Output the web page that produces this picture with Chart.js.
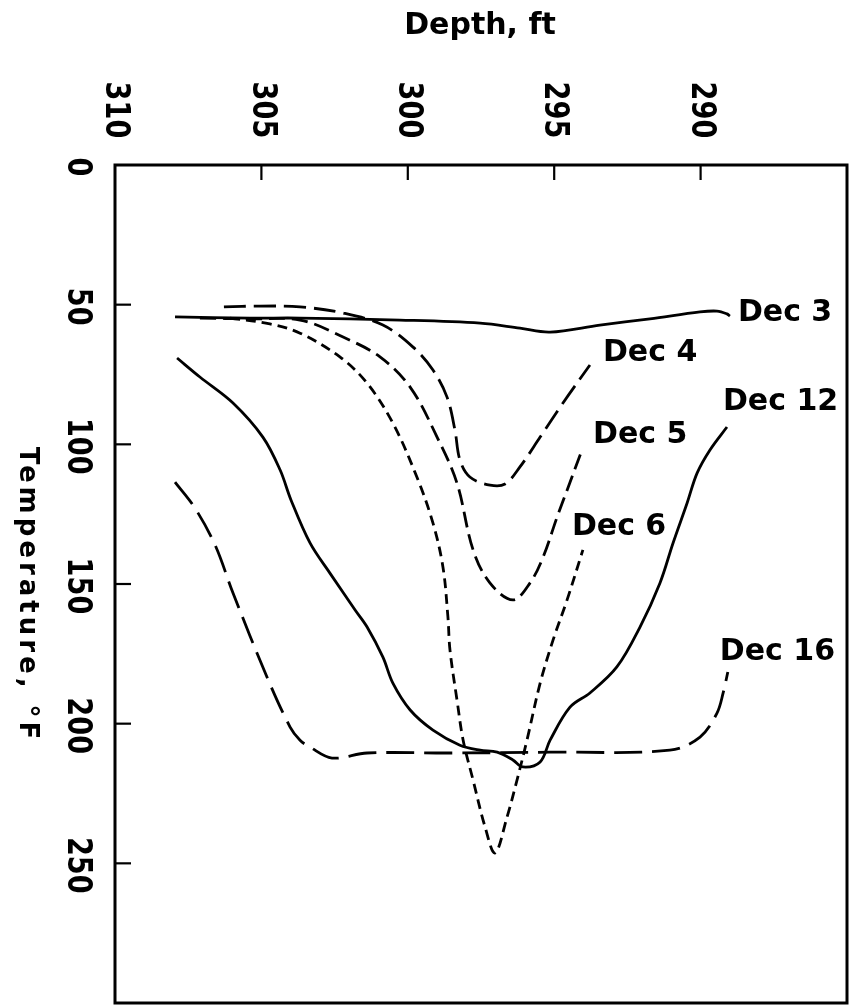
<!DOCTYPE html>
<html>
<head>
<meta charset="utf-8">
<script src="https://cdn.jsdelivr.net/npm/chart.js@4"></script>
<style>
  html, body { margin: 0; padding: 0; background: #fff; }
</style>
</head>
<body>
<canvas id="grafic" width="852" height="1007"></canvas>
<script>
// axa de sus: adancime (ft), axa din stanga: temperatura (F)
const depthTicks = [310, 305, 300, 295, 290];
const tempTicks = [0, 50, 100, 150, 200, 250];
const seriesNames = ['Dec 3', 'Dec 4', 'Dec 5', 'Dec 6', 'Dec 12', 'Dec 16'];

const dec3Depth = [307.95, 305.39, 303.68, 300.27, 297.53, 296.17, 295.14, 293.44, 291.73, 290.02, 289.44, 289.10, 289.00];
const dec3Temp = [54.4, 54.8, 54.8, 55.5, 56.6, 58.4, 59.8, 57.3, 55.1, 52.6, 52.3, 53.3, 54.1];

const dec4Depth = [306.28, 305.05, 303.68, 302.21, 300.85, 299.82, 299.14, 298.66, 298.39, 298.22, 297.88, 297.19, 296.68, 296.17, 295.48, 294.70, 293.78];
const dec4Temp = [50.8, 50.5, 50.8, 53.0, 57.3, 65.2, 73.4, 83.1, 94.9, 105.6, 111.7, 114.6, 114.2, 108.1, 97.4, 85.2, 71.6];

const dec5Depth = [307.10, 305.39, 303.68, 302.21, 300.95, 299.92, 299.00, 298.32, 297.77, 297.19, 296.41, 295.83, 295.38, 294.90, 294.56, 294.05];
const dec5Temp = [54.8, 55.1, 55.5, 61.6, 68.7, 79.5, 97.4, 113.9, 137.8, 149.7, 155.7, 149.7, 140.4, 126.0, 116.4, 102.0];

const dec6Depth = [306.07, 304.71, 303.68, 302.32, 301.39, 300.51, 299.69, 299.14, 298.80, 298.63, 298.56, 298.32, 298.11, 297.77, 297.36, 297.02, 296.61, 296.27, 295.93, 295.48, 295.04, 294.56, 294.02];
const dec6Temp = [54.8, 56.9, 60.2, 68.7, 78.1, 92.4, 111.7, 128.2, 143.9, 161.8, 173.6, 191.5, 205.9, 220.2, 237.0, 246.3, 233.4, 220.2, 205.9, 185.5, 170.1, 155.7, 137.8];

const dec12Depth = [307.88, 307.10, 305.97, 304.95, 304.36, 303.99, 303.34, 302.66, 301.80, 301.39, 300.85, 300.51, 299.92, 299.14, 298.22, 297.53, 296.95, 296.41, 296.07, 295.48, 295.14, 294.46, 293.78, 292.86, 292.07, 291.39, 290.94, 290.46, 290.12, 289.68, 289.10];
const dec12Temp = [69.1, 75.9, 85.2, 97.4, 109.2, 119.9, 135.3, 146.1, 159.3, 165.4, 176.2, 185.5, 195.1, 202.3, 207.7, 209.5, 210.2, 213.0, 215.5, 213.7, 205.9, 194.1, 189.0, 179.7, 165.4, 149.7, 135.3, 121.0, 110.3, 102.0, 93.8];

const dec16Depth = [307.95, 307.27, 306.58, 305.97, 304.81, 304.02, 303.68, 303.34, 302.59, 301.39, 298.56, 295.14, 291.05, 290.02, 289.44, 289.23, 289.07];
const dec16Temp = [113.5, 122.8, 136.1, 153.2, 183.3, 201.2, 205.9, 208.4, 212.3, 210.5, 210.5, 210.2, 209.5, 204.8, 196.2, 189.0, 181.5];

const allDepth = [dec3Depth, dec4Depth, dec5Depth, dec6Depth, dec12Depth, dec16Depth];
const allTemp = [dec3Temp, dec4Temp, dec5Temp, dec6Temp, dec12Temp, dec16Temp];

// stil linii: plin, intrerupt lung, mediu, scurt
const dashes = [[], [22, 8], [16, 7], [10, 6], [], [28, 10]];
// pozitia etichetei fata de capatul curbei (px)
const labelOffsets = [[8, -3], [13, -12], [11, -15], [-11, -23], [-4, -25], [-8, -20]];

const datasets = seriesNames.map((name, i) => ({
    label: name,
    data: allDepth[i].map((d, k) => ({ x: d, y: allTemp[i][k] })),
    showLine: true,
    borderColor: '#000',
    borderWidth: 2.8,
    borderDash: dashes[i],
    pointRadius: 0,
    tension: 0.35,
    fill: false
}));

const fontFam = '"DejaVu Sans", sans-serif';

// text rotit 90 grade in sensul acelor de ceas, putin ingustat
function textRotit(ctx, text, x, y, font, latime) {
    ctx.save();
    ctx.font = font;
    ctx.translate(x, y);
    ctx.rotate(Math.PI / 2);
    ctx.scale(latime, 1);
    ctx.fillText(text, 0, 0);
    ctx.restore();
}

const axePlugin = {
    id: 'axePlugin',
    afterDraw: (chart) => {
        const ctx = chart.ctx;
        const a = chart.chartArea;
        const sx = chart.scales.x;
        const sy = chart.scales.y;
        ctx.save();
        ctx.strokeStyle = '#000';
        ctx.fillStyle = '#000';

        // chenar
        ctx.lineWidth = 3;
        ctx.strokeRect(a.left, a.top, a.right - a.left, a.bottom - a.top);

        // liniute spre interior
        ctx.lineWidth = 2.2;
        depthTicks.forEach(v => {
            const px = sx.getPixelForValue(v);
            if (Math.abs(px - a.left) < 2) return;
            ctx.beginPath();
            ctx.moveTo(px, a.top);
            ctx.lineTo(px, a.top + 15);
            ctx.stroke();
        });
        tempTicks.forEach(v => {
            const py = sy.getPixelForValue(v);
            if (Math.abs(py - a.top) < 2) return;
            ctx.beginPath();
            ctx.moveTo(a.left, py);
            ctx.lineTo(a.left + 16, py);
            ctx.stroke();
        });

        // etichete axe
        ctx.textAlign = 'center';
        ctx.textBaseline = 'middle';
        const fontTick = 'bold 34px ' + fontFam;
        depthTicks.forEach(v => {
            textRotit(ctx, String(v), sx.getPixelForValue(v), 110, fontTick, 0.8);
        });
        tempTicks.forEach(v => {
            textRotit(ctx, String(v), 77, sy.getPixelForValue(v) + 2, fontTick, 0.8);
        });

        // titluri
        ctx.font = 'bold 30px ' + fontFam;
        ctx.fillText('Depth, ft', 480, 26);

        ctx.save();
        ctx.font = 'bold 26px ' + fontFam;
        ctx.letterSpacing = '4px';
        ctx.translate(27, 595);
        ctx.rotate(Math.PI / 2);
        ctx.fillText('Temperature, \u00B0F', 0, 0);
        ctx.restore();

        // etichete serii
        ctx.font = 'bold 30px ' + fontFam;
        ctx.textAlign = 'left';
        seriesNames.forEach((name, i) => {
            const d = allDepth[i];
            const t = allTemp[i];
            const px = sx.getPixelForValue(d[d.length - 1]);
            const py = sy.getPixelForValue(t[t.length - 1]);
            ctx.fillText(name, px + labelOffsets[i][0], py + labelOffsets[i][1]);
        });

        ctx.restore();
    }
};

const ctx = document.getElementById('grafic').getContext('2d');
new Chart(ctx, {
    type: 'scatter',
    data: { datasets: datasets },
    options: {
        responsive: false,
        animation: false,
        layout: { padding: { left: 115, top: 165, right: 5, bottom: 4 } },
        plugins: {
            legend: { display: false },
            tooltip: { enabled: false }
        },
        scales: {
            x: { type: 'linear', min: 285, max: 310, reverse: true, display: false },
            y: { type: 'linear', min: 0, max: 300, reverse: true, display: false }
        }
    },
    plugins: [axePlugin]
});
</script>
</body>
</html>
